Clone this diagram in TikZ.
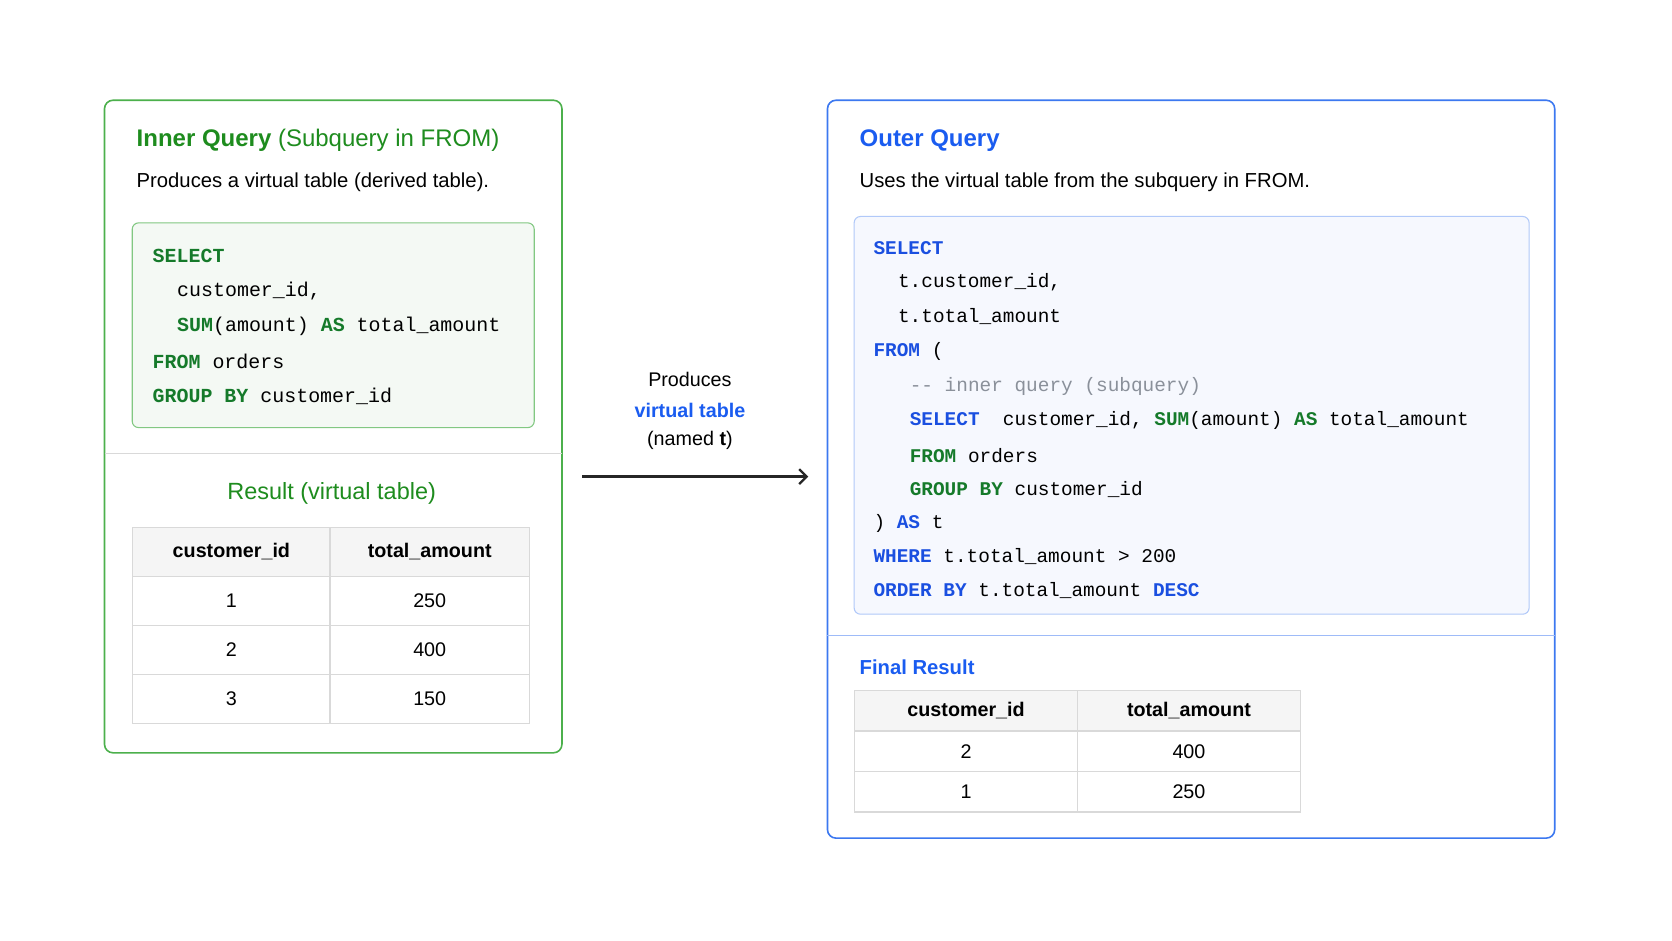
\documentclass[tikz,border=0pt]{standalone}
\usepackage{fontspec}
\setmainfont{Liberation Sans}
\setmonofont{Liberation Mono}
\usetikzlibrary{arrows.meta}
\definecolor{gr}{HTML}{1E8C1E}
\definecolor{grk}{HTML}{157A2A}
\definecolor{bl}{HTML}{1A5CF0}
\definecolor{blk}{HTML}{1A4FE0}
\definecolor{grb}{HTML}{4CB04C}
\definecolor{blb}{HTML}{3C78F0}
\definecolor{cm}{HTML}{8A909A}
\newcommand{\kg}[1]{\textcolor{grk}{\textbf{#1}}}
\newcommand{\kb}[1]{\textcolor{blk}{\textbf{#1}}}
\begin{document}
\begin{tikzpicture}[x=1pt,y=-1pt,
  txt/.style={anchor=west,inner sep=0pt,font=\fontsize{19}{21}\selectfont},
  ttl/.style={anchor=west,inner sep=0pt,font=\fontsize{22.5}{25}\selectfont},
  code/.style={anchor=west,inner sep=0pt,font=\ttfamily\fontsize{18.7}{20}\selectfont},
  codeR/.style={anchor=west,inner sep=0pt,font=\ttfamily\fontsize{18.2}{20}\selectfont},
  cell/.style={draw=black!15,line width=1pt,anchor=north west,inner sep=0pt,font=\fontsize{18.5}{20}\selectfont},
  hcell/.style={cell,fill=black!4,font=\bfseries\fontsize{18.5}{20}\selectfont}]
\useasboundingbox (0,0) rectangle (1568,882);
\fill[white] (0,0) rectangle (1568,882);
% left panel
\draw[grb,line width=1.5pt,rounded corners=8pt,fill=white] (98,94) rectangle (527,706);
\coordinate (ld1) at (98,425); \coordinate (ld2) at (527,425);
\draw[black!15,line width=1pt] (ld1) -- (ld2);
\node[ttl] (lt) at (128,132) {\textcolor{gr}{\textbf{Inner Query} (Subquery in FROM)}};
\node[txt] (ls) at (128,171) {Produces a virtual table (derived table).};
\draw[grb!70,line width=1pt,rounded corners=6pt,fill=gr!5] (124,209) rectangle (501,401);
\node[code] (l1) at (143,240) {\kg{SELECT}};
\node[code] (l2) at (166,273) {customer\_id,};
\node[code] (l3) at (166,306) {\kg{SUM}(amount) \kg{AS} total\_amount};
\node[code] (l4) at (143,339) {\kg{FROM} orders};
\node[code] (l5) at (143,372) {\kg{GROUP BY} customer\_id};
\node[anchor=center,inner sep=0pt,font=\fontsize{22}{24}\selectfont,text=gr] (lr) at (311,463) {Result (virtual table)};
\foreach \c/\y/\a/\b [count=\i] in {h/494/customer\_id/total\_amount, r/540/1/250, r/586/2/400, r/632/3/150}{
  \ifnum\i=1
    \node[hcell,minimum width=185pt,minimum height=46pt] (la\i) at (124,\y) {\a};
    \node[hcell,minimum width=187pt,minimum height=46pt] (lb\i) at (309,\y) {\b};
  \else
    \node[cell,minimum width=185pt,minimum height=46pt] (la\i) at (124,\y) {\a};
    \node[cell,minimum width=187pt,minimum height=46pt] (lb\i) at (309,\y) {\b};
  \fi}
% middle
\node[anchor=center,inner sep=0pt,font=\fontsize{18.5}{20}\selectfont] (m1) at (647,356) {Produces};
\node[anchor=center,inner sep=0pt,font=\bfseries\fontsize{18.5}{20}\selectfont,text=bl] (m2) at (647,385) {virtual table};
\node[anchor=center,inner sep=0pt,font=\fontsize{18.5}{20}\selectfont] (m3) at (647,413) {(named \textbf{t})};
\coordinate (a1) at (546,447); \coordinate (a2) at (758,447);
\draw[line width=2.2pt,black!85,-{Straight Barb[length=7pt,width=14pt]}] (a1) -- (a2);
% right panel
\draw[blb,line width=1.5pt,rounded corners=8pt,fill=white] (776,94) rectangle (1458,786);
\coordinate (rd1) at (776,596); \coordinate (rd2) at (1458,596);
\draw[blb!50,line width=1pt] (rd1) -- (rd2);
\node[ttl] (rt) at (806,132) {\textcolor{bl}{\textbf{Outer Query}}};
\node[txt] (rs) at (806,171) {Uses the virtual table from the subquery in FROM.};
\draw[blb!40,line width=1pt,rounded corners=6pt,fill=bl!4] (801,203) rectangle (1434,576);
\node[codeR] (r1) at (819,233) {\kb{SELECT}};
\node[codeR] (r2) at (842,265) {t.customer\_id,};
\node[codeR] (r3) at (842,297) {t.total\_amount};
\node[codeR] (r4) at (819,330) {\kb{FROM} (};
\node[codeR] (r5) at (853,362) {\textcolor{cm}{-- inner query (subquery)}};
\node[codeR] (r6) at (853,394) {\kb{SELECT}\ \ customer\_id, \kg{SUM}(amount) \kg{AS} total\_amount};
\node[codeR] (r7) at (853,427) {\kg{FROM} orders};
\node[codeR] (r8) at (853,459) {\kg{GROUP BY} customer\_id};
\node[codeR] (r9) at (819,491) {) \kb{AS} t};
\node[codeR] (r10) at (819,522) {\kb{WHERE} t.total\_amount > 200};
\node[codeR] (r11) at (819,554) {\kb{ORDER BY} t.total\_amount \kb{DESC}};
\node[anchor=west,inner sep=0pt,font=\bfseries\fontsize{19}{21}\selectfont,text=bl] (rf) at (806,626) {Final Result};
\foreach \y/\a/\b [count=\i] in {647/customer\_id/total\_amount, 685/2/400, 723/1/250}{
  \ifnum\i=1
    \node[hcell,minimum width=209pt,minimum height=38pt] (ra\i) at (801,\y) {\a};
    \node[hcell,minimum width=209pt,minimum height=38pt] (rb\i) at (1010,\y) {\b};
  \else
    \node[cell,minimum width=209pt,minimum height=38pt] (ra\i) at (801,\y) {\a};
    \node[cell,minimum width=209pt,minimum height=38pt] (rb\i) at (1010,\y) {\b};
  \fi}
\end{tikzpicture}
\end{document}
